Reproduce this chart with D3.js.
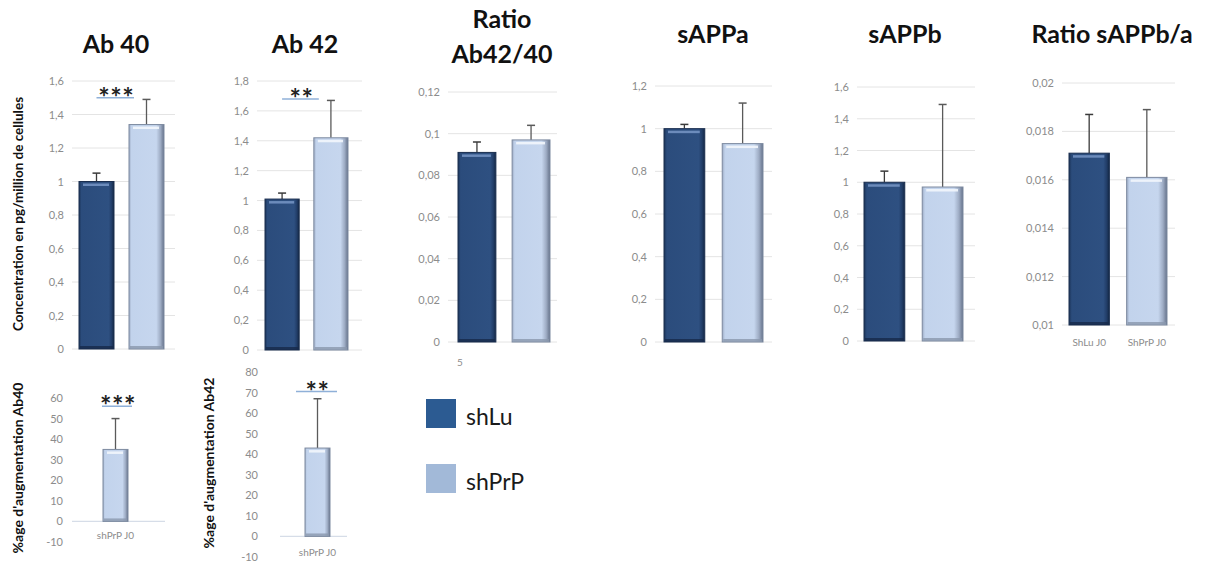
<!DOCTYPE html>
<html><head><meta charset="utf-8">
<script src="https://cdn.jsdelivr.net/npm/d3@7"></script>
<style>body{margin:0;background:#fff} svg{display:block} text{font-family:Lato,"Open Sans",sans-serif}</style>
</head><body><svg id="c" width="1207" height="563"></svg>
<script>
// ---------- DATA ----------
const groups = ["shLu", "shPrP"];
const panelTitles = [["Ab 40"], ["Ab 42"], ["Ratio", "Ab42/40"], ["sAPPa"], ["sAPPb"], ["Ratio sAPPb/a"]];
const shLuMeans  = [1.00, 1.01, 0.091, 1.00, 1.00, 0.0171];
const shLuErr    = [0.05, 0.04, 0.005, 0.02, 0.07, 0.0016];
const shPrPMeans = [1.34, 1.42, 0.097, 0.93, 0.97, 0.0161];
const shPrPErr   = [0.15, 0.25, 0.007, 0.19, 0.52, 0.0028];
const yTicksAb40   = [0, 0.2, 0.4, 0.6, 0.8, 1, 1.2, 1.4, 1.6];
const yTicksAb42   = [0, 0.2, 0.4, 0.6, 0.8, 1, 1.2, 1.4, 1.6, 1.8];
const yTicksRatioA = [0, 0.02, 0.04, 0.06, 0.08, 0.1, 0.12];
const yTicksSAPPa  = [0, 0.2, 0.4, 0.6, 0.8, 1, 1.2];
const yTicksSAPPb  = [0, 0.2, 0.4, 0.6, 0.8, 1, 1.2, 1.4, 1.6];
const yTicksRatioS = [0.01, 0.012, 0.014, 0.016, 0.018, 0.02];
const significance = ["***", "**", "", "", "", ""];
const sigLevels    = [1.50, 1.68, null, null, null, null];
const ratioXLabels = ["ShLu J0", "ShPrP J0"];
const ratioAbXLabel = ["5"];
const yAxisTitle = "Concentration en pg/million de cellules";

const pctCategories = ["shPrP J0"];
const pctAb40 = [35], pctAb40Err = [15];
const pctAb42 = [43], pctAb42Err = [24];
const pctTicksAb40 = [-10, 0, 10, 20, 30, 40, 50, 60];
const pctTicksAb42 = [-10, 0, 10, 20, 30, 40, 50, 60, 70, 80];
const pctTitles = ["%age d'augmentation Ab40", "%age d'augmentation Ab42"];
const pctSig = ["***", "**"];
const pctSigLevels = [56, 70.5];

// ---------- LAYOUT ----------
const svg = d3.select("#c");
const fmt = v => String(+v.toFixed(6)).replace(".", ",");

const defs = svg.append("defs");
function grad(id, stops) {
  const g = defs.append("linearGradient").attr("id", id).attr("x1", 0).attr("x2", 1).attr("y1", 0).attr("y2", 0);
  stops.forEach(s => g.append("stop").attr("offset", s[0]).attr("stop-color", s[1]));
}
grad("gDark", [[0, "#1b3459"], [0.07, "#2b4c7c"], [0.85, "#2e5081"], [0.93, "#223e69"], [1, "#142845"]]);
grad("gLight", [[0, "#9eadc6"], [0.07, "#c2d3ec"], [0.78, "#c6d6ee"], [0.9, "#9eacc4"], [1, "#66738b"]]);

const fills = { shLu: "url(#gDark)", shPrP: "url(#gLight)" };
const strokes = { shLu: "#1a2e4f", shPrP: "#7d8aa0" };
const hi = { shLu: "#7392c2", shPrP: "#f2f6fc" };
const errCol = { shLu: "#3a3a3a", shPrP: "#5a5a5a" };

function drawBar(g, x, w, yTop, yBase, grp) {
  const h = Math.max(0, yBase - yTop);
  g.append("rect").attr("x", x).attr("y", yTop).attr("width", w).attr("height", h)
    .attr("fill", fills[grp]).attr("stroke", strokes[grp]).attr("stroke-width", 1);
  g.append("rect").attr("x", x + 4).attr("y", yTop + 2).attr("width", w - 9).attr("height", 2.5)
    .attr("fill", hi[grp]).attr("opacity", 0.9);
  g.append("rect").attr("x", x + 1).attr("y", yBase - 3).attr("width", w - 2).attr("height", 3)
    .attr("fill", grp === "shLu" ? "#16294a" : "#8a97ad").attr("opacity", 0.8);
}
function drawErr(g, cx, y0, y1, grp) {
  g.append("line").attr("x1", cx).attr("x2", cx).attr("y1", y0).attr("y2", y1)
    .attr("stroke", errCol[grp]).attr("stroke-width", 1.3);
  g.append("line").attr("x1", cx - 4).attr("x2", cx + 4).attr("y1", y1).attr("y2", y1)
    .attr("stroke", errCol[grp]).attr("stroke-width", 1.5);
}
function stars(g, cx, ys, str) {
  g.append("text").attr("x", cx + 1).attr("y", ys + 9).attr("text-anchor", "middle")
    .attr("font-size", 27).attr("font-weight", 700).attr("letter-spacing", 0.5)
    .attr("fill", "#222").text(str);
}

const panels = [
  { grid: [72, 175], bars: [79, 164], y: [349, 81], ticks: yTicksAb40, title: [116, 53] },
  { grid: [257, 362], bars: [265, 348], y: [350, 81], ticks: yTicksAb42, title: [305, 53] },
  { grid: [448, 557], bars: [458, 550], y: [342, 92], ticks: yTicksRatioA, title: [502, 28] },
  { grid: [655, 772], bars: [664, 763], y: [342, 86], ticks: yTicksSAPPa, title: [713, 43] },
  { grid: [857, 975], bars: [864, 963], y: [341, 87], ticks: yTicksSAPPb, title: [905, 43] },
  { grid: [1062, 1175], bars: [1069, 1167], y: [325, 83], ticks: yTicksRatioS, title: [1112, 43] }
];

panels.forEach((p, i) => {
  const g = svg.append("g");
  const y = d3.scaleLinear().domain(d3.extent(p.ticks)).range(p.y);
  const x = d3.scaleBand().domain(groups).range(p.bars).paddingInner(0.3).paddingOuter(0);
  g.selectAll("line.grid").data(p.ticks).join("line")
    .attr("x1", p.grid[0]).attr("x2", p.grid[1]).attr("y1", d => y(d)).attr("y2", d => y(d))
    .attr("stroke", "#e4e4e4").attr("stroke-width", 1);
  const ax = g.append("g").attr("transform", `translate(${p.grid[0] - 8},0)`)
    .call(d3.axisLeft(y).tickValues(p.ticks).tickFormat(fmt).tickSize(0).tickPadding(0));
  ax.select(".domain").remove();
  ax.selectAll("text").attr("fill", "#8c8c8c").style("font-size", "11px").style("font-family", "Lato, sans-serif");
  panelTitles[i].forEach((line, k) => {
    g.append("text").attr("x", p.title[0]).attr("y", p.title[1] + k * 35)
      .attr("text-anchor", "middle").attr("font-weight", 700).attr("font-size", 25).attr("fill", "#111").text(line);
  });
  const means = [shLuMeans[i], shPrPMeans[i]];
  const errs = [shLuErr[i], shPrPErr[i]];
  groups.forEach((grp, k) => {
    const bx = x(grp), bw = x.bandwidth();
    drawErr(g, bx + bw / 2, y(means[k]), y(means[k] + errs[k]), grp);
    drawBar(g, bx, bw, y(means[k]), y(y.domain()[0]), grp);
  });
  if (significance[i]) {
    const x1 = x("shLu") + x.bandwidth() / 2, x2 = x("shPrP") + 5;
    const ys = y(sigLevels[i]);
    g.append("line").attr("x1", x1).attr("x2", x2).attr("y1", ys).attr("y2", ys)
      .attr("stroke", "#8fb0d8").attr("stroke-width", 1.5);
    stars(g, (x1 + x2) / 2, ys, significance[i]);
  }
  if (i === 5) {
    groups.forEach((grp, k) => {
      g.append("text").attr("x", x(grp) + x.bandwidth() / 2).attr("y", p.y[0] + 21).attr("text-anchor", "middle")
        .attr("font-size", 10).attr("fill", "#8c8c8c").text(ratioXLabels[k]);
    });
  }
  if (i === 2) {
    g.append("text").attr("x", 460).attr("y", p.y[0] + 24).attr("text-anchor", "middle")
      .attr("font-size", 10).attr("fill", "#8c8c8c").text(ratioAbXLabel[0]);
  }
});

svg.append("text").attr("transform", "translate(23,214) rotate(-90)").attr("text-anchor", "middle")
  .attr("font-size", 13.5).attr("font-weight", 700).attr("fill", "#111").text(yAxisTitle);

// ---------- bottom percentage panels ----------
const pctPanels = [
  { axis: [72, 165], bar: [103, 128], y: [542, 398], ticks: pctTicksAb40, vals: pctAb40, errs: pctAb40Err, labelX: 63, titleX: 23, titleY: 468, xlabY: 539 },
  { axis: [280, 347], bar: [305, 330], y: [557, 372], ticks: pctTicksAb42, vals: pctAb42, errs: pctAb42Err, labelX: 258, titleX: 214, titleY: 463, xlabY: 556 }
];
pctPanels.forEach((p, i) => {
  const g = svg.append("g");
  const y = d3.scaleLinear().domain(d3.extent(p.ticks)).range(p.y);
  const x = d3.scaleBand().domain(pctCategories).range(p.bar).padding(0);
  g.append("line").attr("x1", p.axis[0]).attr("x2", p.axis[1]).attr("y1", y(0)).attr("y2", y(0))
    .attr("stroke", "#d6dde8").attr("stroke-width", 1.2);
  const ax = g.append("g").attr("transform", `translate(${p.labelX},0)`)
    .call(d3.axisLeft(y).tickValues(p.ticks).tickFormat(fmt).tickSize(0).tickPadding(0));
  ax.select(".domain").remove();
  ax.selectAll("text").attr("fill", "#8c8c8c").style("font-size", "11px").style("font-family", "Lato, sans-serif");
  const cat = pctCategories[0];
  const bx = x(cat), bw = x.bandwidth();
  drawErr(g, bx + bw / 2, y(p.vals[0]), y(p.vals[0] + p.errs[0]), "shPrP");
  drawBar(g, bx, bw, y(p.vals[0]), y(0), "shPrP");
  const ys = y(pctSigLevels[i]);
  const sx1 = i === 0 ? bx - 1 : bx - 9, sx2 = i === 0 ? bx + bw + 4 : bx + bw + 7;
  g.append("line").attr("x1", sx1).attr("x2", sx2).attr("y1", ys).attr("y2", ys)
    .attr("stroke", "#8fb0d8").attr("stroke-width", 1.5);
  stars(g, (sx1 + sx2) / 2, ys, pctSig[i]);
  g.append("text").attr("x", bx + bw / 2).attr("y", p.xlabY).attr("text-anchor", "middle")
    .attr("font-size", 10).attr("fill", "#8c8c8c").text(cat);
  svg.append("text").attr("transform", `translate(${p.titleX},${p.titleY}) rotate(-90)`).attr("text-anchor", "middle")
    .attr("font-size", 14).attr("font-weight", 700).attr("fill", "#111").text(pctTitles[i]);
});

// ---------- legend ----------
const legColors = { shLu: "#2c5b92", shPrP: "#a2b9d8" };
groups.forEach((grp, k) => {
  const ly = 399 + k * 65;
  svg.append("rect").attr("x", 426).attr("y", ly).attr("width", 30).attr("height", 29).attr("fill", legColors[grp]);
  svg.append("text").attr("x", 466).attr("y", ly + 26).attr("font-size", 23).attr("fill", "#1a1a1a").text(grp);
});
</script></body></html>
